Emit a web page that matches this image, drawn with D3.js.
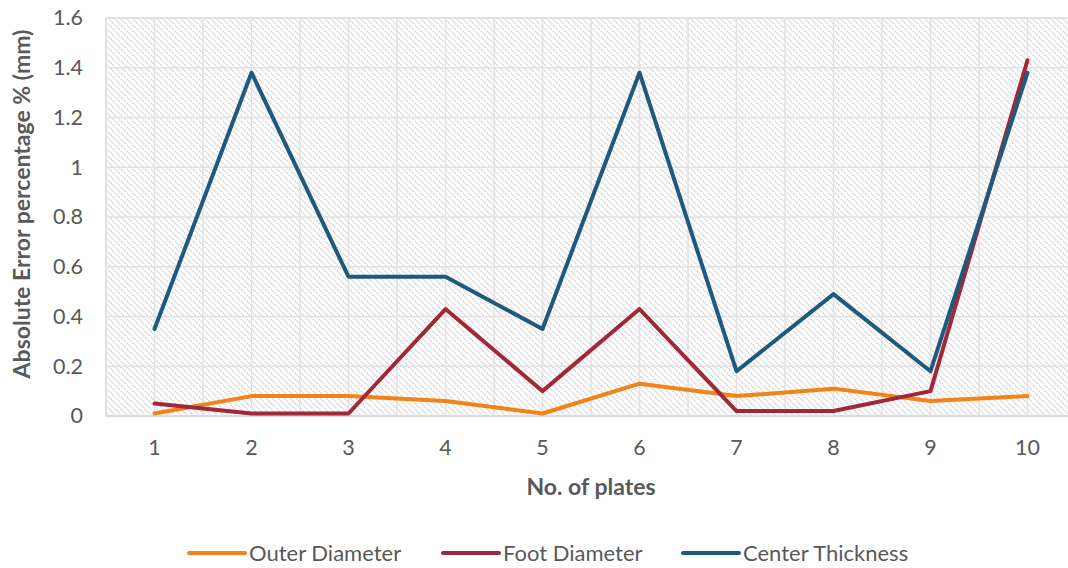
<!DOCTYPE html>
<html>
<head>
<meta charset="utf-8">
<script src="https://cdn.jsdelivr.net/npm/d3@7"></script>
<style>
  html, body { margin: 0; padding: 0; background: #fff; }
  svg { display: block; font-family: Lato, "Open Sans", sans-serif; }
</style>
</head>
<body>
<svg id="chart" width="1068" height="568"></svg>
<script>
// Plate numbers along the horizontal axis
const plates = ["1", "2", "3", "4", "5", "6", "7", "8", "9", "10"];

// Absolute error percentage for each measured dimension
const outerDiameter   = [0.01, 0.08, 0.08, 0.06, 0.01, 0.13, 0.08, 0.11, 0.06, 0.08];
const footDiameter    = [0.05, 0.01, 0.01, 0.43, 0.10, 0.43, 0.02, 0.02, 0.10, 1.43];
const centerThickness = [0.35, 1.38, 0.56, 0.56, 0.35, 1.38, 0.18, 0.49, 0.18, 1.38];

const yTicks = [0, 0.2, 0.4, 0.6, 0.8, 1, 1.2, 1.4, 1.6];
const seriesNames = ["Outer Diameter", "Foot Diameter", "Center Thickness"];
const seriesColors = ["#F28318", "#A12838", "#1E5A7D"];

const series = [
  { name: seriesNames[0], values: outerDiameter,   color: seriesColors[0] },
  { name: seriesNames[1], values: footDiameter,    color: seriesColors[1] },
  { name: seriesNames[2], values: centerThickness, color: seriesColors[2] }
];

const svg = d3.select("#chart");
const plot = { left: 106, top: 18, right: 1076, bottom: 416 };
const textColor = "#595959";

const x = d3.scaleBand().domain(plates).range([plot.left, plot.right]).paddingInner(0).paddingOuter(0);
const cx = d => x(d) + x.bandwidth() / 2;
const y = d3.scaleLinear().domain([0, 1.6]).range([plot.bottom, plot.top]);

// Diagonal hatch fill for the plot area
const defs = svg.append("defs");
const pat = defs.append("pattern")
  .attr("id", "hatch")
  .attr("patternUnits", "userSpaceOnUse")
  .attr("width", 6).attr("height", 6);
pat.append("rect").attr("width", 6).attr("height", 6).attr("fill", "#ffffff");
pat.append("path")
  .attr("d", "M-1,-1 L7,7 M-1,5 L1,7 M5,-1 L7,1")
  .attr("stroke", "#d4d4d4")
  .attr("stroke-width", 1.4)
  .attr("stroke-dasharray", "1.6,0.9");

svg.append("rect")
  .attr("x", plot.left).attr("y", plot.top)
  .attr("width", plot.right - plot.left).attr("height", plot.bottom - plot.top)
  .attr("fill", "url(#hatch)")
  .attr("stroke", "#d9d9d9").attr("stroke-width", 1.5);

// Gridlines: horizontal at each value tick, vertical at band edges and centres
const grid = svg.append("g").attr("stroke", "#e2e2e2").attr("stroke-width", 1.5);
grid.selectAll("line.h").data(yTicks).join("line")
  .attr("class", "h")
  .attr("x1", plot.left).attr("x2", plot.right)
  .attr("y1", d => y(d)).attr("y2", d => y(d));
const vPositions = [];
plates.forEach(p => { vPositions.push(x(p)); vPositions.push(cx(p)); });
grid.selectAll("line.v").data(vPositions).join("line")
  .attr("class", "v")
  .attr("x1", d => d).attr("x2", d => d)
  .attr("y1", plot.top).attr("y2", plot.bottom);

// Bottom axis line
svg.append("line")
  .attr("x1", plot.left).attr("x2", plot.right)
  .attr("y1", plot.bottom).attr("y2", plot.bottom)
  .attr("stroke", "#d9d9d9").attr("stroke-width", 1.5);

// Y axis labels
const yAxis = d3.axisLeft(y).tickValues(yTicks).tickSize(0).tickPadding(0)
  .tickFormat(d => d3.format("~g")(d));
const yg = svg.append("g").attr("transform", "translate(83,0)").call(yAxis);
yg.select(".domain").remove();
yg.selectAll("text").attr("fill", textColor).attr("font-size", 21.5).attr("font-family", "Lato, sans-serif");

// X axis labels
const xAxis = d3.axisBottom(x).tickSize(0).tickPadding(0);
const xg = svg.append("g").attr("transform", `translate(0,${plot.bottom + 24})`).call(xAxis);
xg.select(".domain").remove();
xg.selectAll("text").attr("fill", textColor).attr("font-size", 21.5).attr("font-family", "Lato, sans-serif");

// Axis titles
svg.append("text")
  .attr("x", 591).attr("y", 495)
  .attr("text-anchor", "middle")
  .attr("font-size", 23).attr("font-weight", "bold").attr("fill", textColor)
  .text("No. of plates");
svg.append("text")
  .attr("transform", "translate(30,204) rotate(-90)")
  .attr("text-anchor", "middle")
  .attr("font-size", 23).attr("font-weight", "bold").attr("fill", textColor)
  .text("Absolute Error percentage % (mm)");

// Series lines
const line = d3.line()
  .x((d, i) => cx(plates[i]))
  .y(d => y(d));
svg.append("g").selectAll("path").data(series).join("path")
  .attr("d", d => line(d.values))
  .attr("fill", "none")
  .attr("stroke", d => d.color)
  .attr("stroke-width", 4)
  .attr("stroke-linejoin", "round")
  .attr("stroke-linecap", "round");

// Legend
const legendX = [189, 443, 683];
const lg = svg.append("g").selectAll("g").data(series).join("g")
  .attr("transform", (d, i) => `translate(${legendX[i]},553)`);
lg.append("line")
  .attr("x1", 0).attr("x2", 56).attr("y1", 0).attr("y2", 0)
  .attr("stroke", d => d.color).attr("stroke-width", 4).attr("stroke-linecap", "round");
lg.append("text")
  .attr("x", 60).attr("y", 0).attr("dy", "0.35em")
  .attr("font-size", 22).attr("fill", textColor)
  .text(d => d.name);
</script>
</body>
</html>
